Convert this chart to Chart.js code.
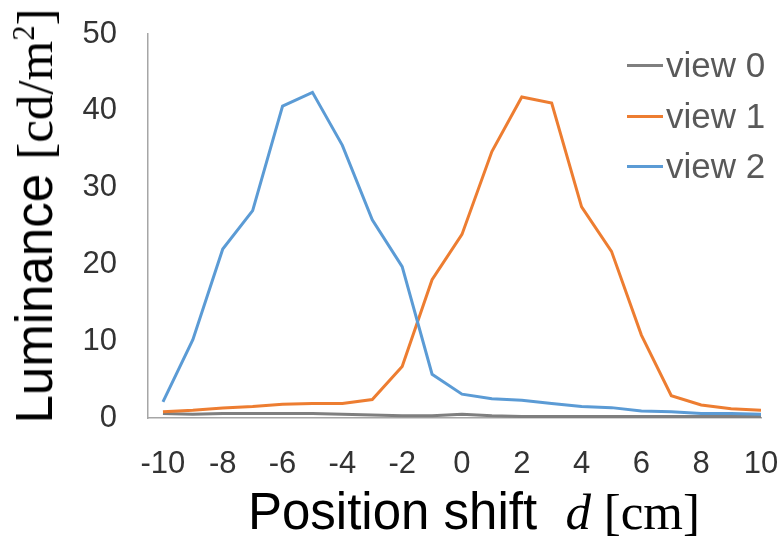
<!DOCTYPE html>
<html>
<head>
<meta charset="utf-8">
<script src="https://cdn.jsdelivr.net/npm/chart.js@4"></script>
<style>
  body { margin: 0; background: #fff; }
  #wrap { position: relative; width: 782px; height: 539px; font-family: "Liberation Sans", Arial, sans-serif; }
  canvas { position: absolute; left: 0; top: 0; }
  .serif { font-family: "Liberation Serif", "Times New Roman", serif; }
  #ytitle {
    position: absolute; left: 35px; top: 216px; font-size: 51px; line-height: 51px;
    white-space: nowrap; color: #000; transform: translate(-50%, -50%) rotate(-90deg);
  }
  #xtitle {
    position: absolute; left: 474px; top: 512px; font-size: 51px; line-height: 51px;
    white-space: nowrap; color: #000; transform: translate(-50%, -50%);
  }
  sup { font-size: 0.6em; line-height: 0; }
  #legend { position: absolute; left: 627px; top: 45px; }
  .item { position: absolute; left: 0; height: 40px; display: flex; align-items: center; white-space: nowrap; font-size: 35px; color: #595959; }
  .sw { display: inline-block; width: 36px; height: 3px; margin-right: 3px; }
</style>
</head>
<body>
<div id="wrap">
  <canvas id="chart" width="782" height="539"></canvas>
  <div id="ytitle">Luminance <span class="serif">[cd/m<sup>2</sup>]</span></div>
  <div id="xtitle">Position shift&nbsp; <span class="serif"><i>d</i> [cm]</span></div>
  <div id="legend"></div>
</div>
<script>
// --- Data ---
const positions = [-10, -9, -8, -7, -6, -5, -4, -3, -2, -1, 0, 1, 2, 3, 4, 5, 6, 7, 8, 9, 10];
const view0 = [0.6, 0.5, 0.6, 0.6, 0.6, 0.6, 0.5, 0.4, 0.3, 0.3, 0.5, 0.3, 0.2, 0.2, 0.2, 0.2, 0.2, 0.2, 0.2, 0.2, 0.2];
const view1 = [0.8, 1.0, 1.3, 1.5, 1.8, 1.9, 1.9, 2.4, 6.7, 18.0, 23.9, 34.7, 41.8, 41.0, 27.5, 21.7, 10.8, 2.9, 1.7, 1.2, 1.0];
const view2 = [2.1, 10.2, 22.0, 27.0, 40.6, 42.4, 35.5, 25.8, 19.7, 5.7, 3.1, 2.5, 2.3, 1.9, 1.5, 1.35, 0.9, 0.8, 0.6, 0.6, 0.5];
const xTicks = [-10, -8, -6, -4, -2, 0, 2, 4, 6, 8, 10];
const yTicks = [0, 10, 20, 30, 40, 50];

const seriesLabels = ["view 0", "view 1", "view 2"];
const seriesColors = ["#7f7f7f", "#ed7d31", "#5b9bd5"];
const seriesValues = [view0, view1, view2];

const toPoints = vals => vals.map((v, i) => ({ x: positions[i], y: v }));

const datasets = seriesValues.map((vals, i) => ({
  label: seriesLabels[i],
  data: toPoints(vals),
  borderColor: seriesColors[i],
  backgroundColor: seriesColors[i],
  borderWidth: 3,
  pointRadius: 0,
  tension: 0,
  order: 3 - i
}));

const axisColor = "#a6a6a6";
const tickFont = { family: "Liberation Sans", size: 31 };

new Chart(document.getElementById("chart").getContext("2d"), {
  type: "line",
  data: { datasets },
  options: {
    responsive: false,
    animation: false,
    layout: { padding: { top: 34, right: 21, bottom: 0, left: 0 } },
    plugins: { legend: { display: false }, tooltip: { enabled: false } },
    scales: {
      x: {
        type: "linear",
        min: -10.5,
        max: 10,
        grid: { display: false, drawTicks: false },
        border: { display: true, color: axisColor, width: 1.5 },
        ticks: { color: "#333333", font: tickFont, padding: 28, maxRotation: 0 },
        afterBuildTicks: s => { s.ticks = xTicks.map(v => ({ value: v })); },
        afterFit: s => { s.height = 121; s.paddingLeft = 0; s.paddingRight = 0; }
      },
      y: {
        min: 0,
        max: 50,
        grid: { display: false, drawTicks: false },
        border: { display: true, color: axisColor, width: 1.5 },
        ticks: { color: "#333333", font: tickFont, padding: 31 },
        afterBuildTicks: s => { s.ticks = yTicks.map(v => ({ value: v })); },
        afterFit: s => { s.width = 148; s.paddingTop = 0; s.paddingBottom = 0; }
      }
    }
  }
});

// --- Legend ---
const legend = document.getElementById("legend");
const rowTops = [0, 51, 101];
seriesLabels.forEach((lab, i) => {
  const row = document.createElement("div");
  row.className = "item";
  row.style.top = rowTops[i] + "px";
  row.innerHTML = `<span class="sw" style="background:${seriesColors[i]}"></span>${lab}`;
  legend.appendChild(row);
});
</script>
</body>
</html>
